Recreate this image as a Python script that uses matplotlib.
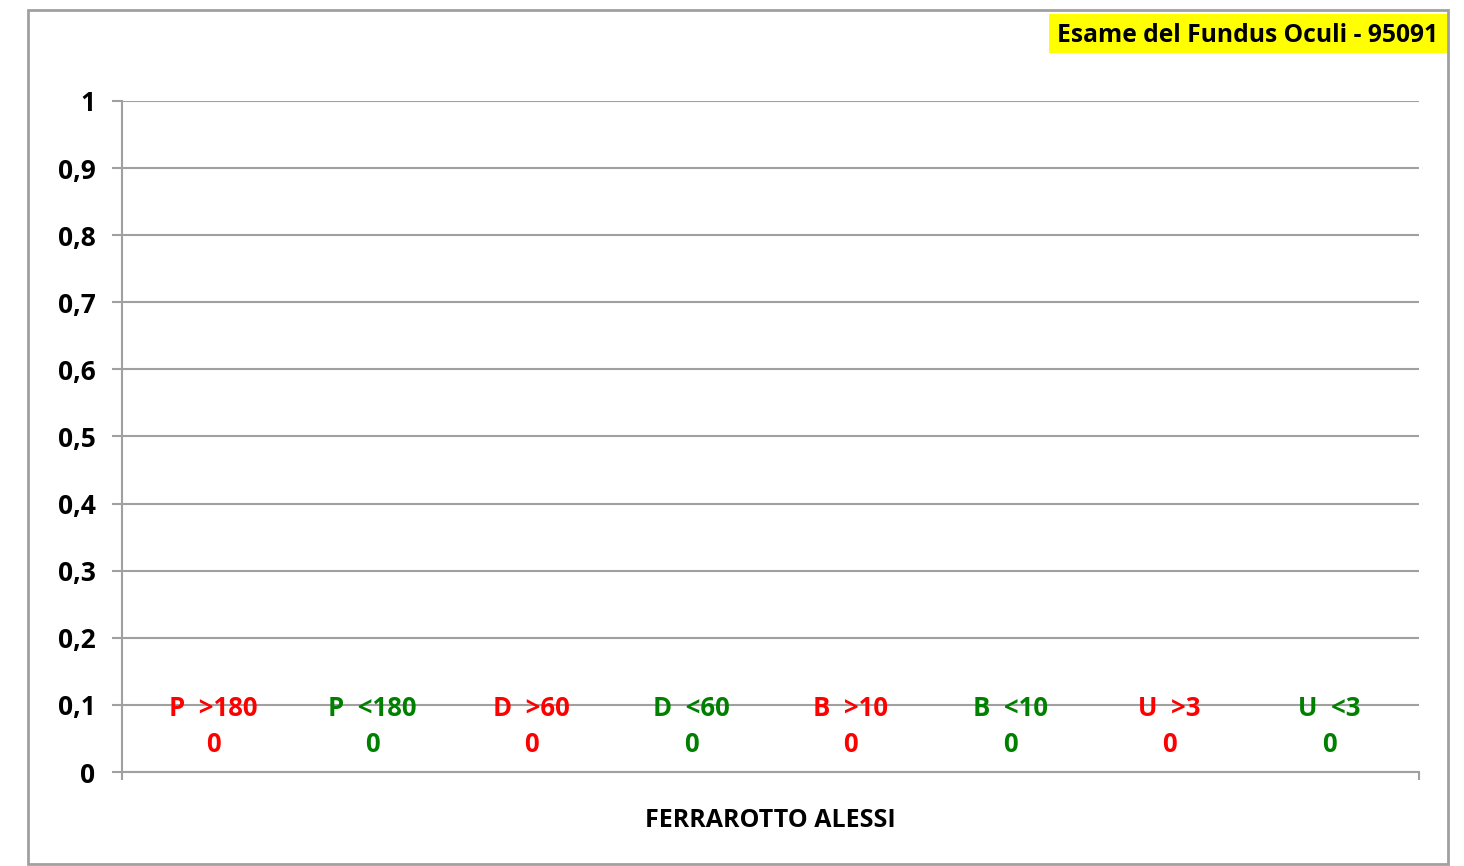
import matplotlib.pyplot as plt
from matplotlib.patches import Rectangle
from matplotlib.ticker import FuncFormatter

plt.rcParams['font.family'] = ['Open Sans', 'DejaVu Sans']

paziente = 'FERRAROTTO ALESSI'
serie = ['P  >180', 'P  <180', 'D  >60', 'D  <60', 'B  >10', 'B  <10', 'U  >3', 'U  <3']
valori = [0, 0, 0, 0, 0, 0, 0, 0]
colori = ['#FF0000', '#008000', '#FF0000', '#008000', '#FF0000', '#008000', '#FF0000', '#008000']
titolo = 'Esame del Fundus Oculi - 95091'

fig = plt.figure(figsize=(14.64, 8.66), dpi=100)
ax = fig.add_axes([0.0833, 0.1085, 0.886, 0.775])

# una serie per ogni barra, come in Excel
for i in range(len(serie)):
    barre = ax.bar(i, valori[i], width=1.0, color=colori[i])
    etichetta = serie[i] + '\n' + str(valori[i]).replace('.', ',')
    ax.bar_label(barre, labels=[etichetta], padding=10, color=colori[i],
                 fontsize=18.5, fontweight='bold', linespacing=1.45)

ax.set_xlim(-0.571, 7.565)
ax.set_ylim(0, 1)
ax.set_yticks([i / 10 for i in range(11)])
ax.yaxis.set_major_formatter(FuncFormatter(lambda v, p: ('%g' % round(v, 1)).replace('.', ',')))
ax.grid(axis='y', color='#A0A0A0', linewidth=1.5)
ax.set_axisbelow(True)

# tacche ai bordi della categoria, etichetta al centro
ax.set_xticks([-0.571, 7.565])
ax.set_xticklabels(['', ''])
ax.set_xticks([3.497], minor=True)
ax.set_xticklabels([paziente], minor=True)
ax.tick_params(axis='x', which='minor', length=0, pad=26, labelsize=18)
ax.tick_params(axis='x', which='major', length=6, width=1.5, color='#A0A0A0')
ax.tick_params(axis='y', length=7, width=1.5, color='#A0A0A0', pad=12, labelsize=19)
for t in ax.get_xticklabels(minor=True) + ax.get_yticklabels():
    t.set_fontweight('bold')

for lato in ['top', 'right']:
    ax.spines[lato].set_visible(False)
for lato in ['left', 'bottom']:
    ax.spines[lato].set_color('#A0A0A0')
    ax.spines[lato].set_linewidth(1.5)

# cornice del grafico
fig.patches.append(Rectangle((28 / 1464, 1 - 864 / 866), 1420 / 1464, 854 / 866,
                             transform=fig.transFigure, fill=False,
                             edgecolor='#A0A0A0', linewidth=2))
# riquadro giallo del titolo
fig.patches.append(Rectangle((1049 / 1464, 1 - 53 / 866), 398 / 1464, 39 / 866,
                             transform=fig.transFigure, facecolor='#FFFF00', edgecolor='none'))
fig.text(1248 / 1464, 1 - 35 / 866, titolo, ha='center', va='center',
         fontsize=17.7, fontweight='bold')

plt.savefig('out.png', dpi=100)
